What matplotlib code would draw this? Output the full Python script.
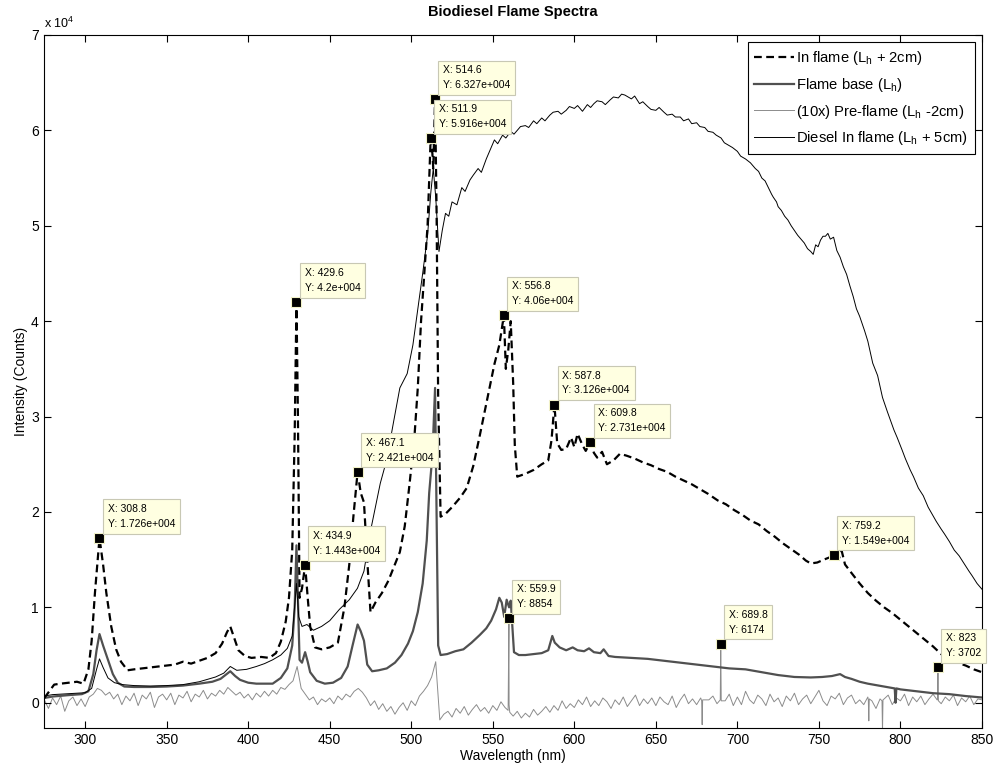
import numpy as np
import matplotlib.pyplot as plt
from matplotlib.ticker import FuncFormatter

plt.rcParams['font.family'] = ['Liberation Sans', 'DejaVu Sans']
plt.rcParams['mathtext.fontset'] = 'custom'
plt.rcParams['mathtext.rm'] = 'Liberation Sans'
plt.rcParams['mathtext.it'] = 'Liberation Sans:italic'

# --- In flame (Lh + 2cm), dashed ---
wl_in = [275, 278, 281, 285, 290, 295, 299, 302, 304, 306, 308.8, 311, 313, 316, 319, 322, 326,
         330, 335, 340, 345, 350, 355, 360, 365, 370, 375, 380, 384, 387, 389, 391, 394, 398,
         402, 408, 413, 417, 420, 423, 425, 427, 428.5, 429.6, 430.5, 431.5, 433, 434.9, 436.5,
         438, 441, 445, 450, 455, 459, 462, 464.5, 467.1, 469, 471, 473, 475, 478, 482, 486,
         490, 493, 496, 499, 502, 504, 506, 508, 510, 511.9, 512.8, 513.5, 514.6, 515.5, 516.5,
         518, 521, 525, 530, 534, 538, 542, 545, 548, 551, 554, 556.8, 558, 559.5, 561, 562.5,
         563.5, 565, 570, 575, 580, 584, 586, 587.8, 589.5, 592, 595, 598, 600, 602, 605, 607,
         609.8, 612, 614, 617, 620, 624, 628, 632, 637, 642, 647, 652, 657, 662, 667, 672, 677,
         682, 688, 693, 698, 703, 708, 713, 718, 723, 728, 733, 738, 742, 745, 749, 753, 756,
         759.2, 762, 764, 766, 770, 775, 780, 785, 790, 795, 800, 805, 810, 815, 820, 825, 830,
         835, 840, 845, 850]
inflame = [500, 1200, 1900, 2000, 2100, 2200, 2000, 3500, 6500, 11500, 17260, 14500, 11500, 8000,
           5600, 4300, 3400, 3500, 3600, 3700, 3800, 3900, 4000, 4300, 4100, 4400, 4700, 5200,
           6200, 7400, 8000, 7000, 5500, 4900, 4700, 4800, 4700, 5200, 6400, 8500, 11000, 16000,
           28000, 42000, 30000, 11000, 12000, 14430, 11000, 8000, 5800, 5600, 5800, 6300, 10000,
           14500, 19500, 24210, 22000, 21000, 15000, 9500, 10500, 11500, 12800, 14500, 15800,
           18500, 23000, 28000, 33000, 40000, 45000, 50000, 59160, 58000, 56000, 63270, 52000,
           32000, 19500, 19800, 20500, 21500, 22500, 24800, 28000, 30500, 33000, 35500, 37500,
           40600, 35000, 37000, 40000, 33500, 27000, 23700, 24000, 24400, 25000, 25400, 27500,
           31260, 27200, 26500, 26600, 27800, 26800, 28200, 27000, 26400, 27310, 26200, 25700,
           26300, 25000, 25400, 26100, 25900, 25600, 25200, 24900, 24500, 24200, 23700, 23300,
           22900, 22400, 21900, 21200, 20800, 20200, 19700, 19100, 18700, 18000, 17400, 16700,
           16100, 15500, 14900, 14600, 14700, 15000, 15200, 15490, 15000, 15900, 14500, 13600,
           12500, 11500, 10700, 10000, 9400, 8700, 8000, 7300, 6600, 5900, 5100, 4600, 4200,
           3900, 3500, 3200]

# --- Flame base (Lh) ---
wl_base = [275, 280, 290, 298, 302, 305, 307, 308.8, 311, 314, 317, 320, 324, 330, 340, 350, 360,
           370, 378, 383, 386, 389, 392, 395, 400, 405, 410, 415, 420, 424, 427, 428.5, 429.6,
           430.5, 431.5, 433, 434.9, 436.5, 438, 442, 447, 452, 457, 461, 464, 467.1, 469, 471,
           473, 476, 480, 485, 490, 494, 498, 501, 504, 507, 509.5, 511, 512, 513, 514.6, 515.5,
           516.5, 518, 522, 527, 532, 537, 542, 546, 549, 552, 554, 555.5, 557, 558.5, 560, 561,
           562, 563, 566, 570, 575, 580, 584, 586.5, 588, 591, 595, 599, 602, 606, 609, 612, 616,
           618, 621, 625, 635, 645, 655, 665, 675, 685, 695, 705, 715, 725, 735, 745, 752, 758,
           763, 766, 770, 775, 780, 790, 796.5, 797, 797.5, 800, 810, 820, 830, 840, 850]
base = [500, 650, 800, 900, 1200, 3000, 5500, 7200, 6000, 4500, 3000, 2100, 1700, 1650, 1650, 1700,
        1800, 2000, 2200, 2500, 2900, 3300, 2800, 2400, 2100, 2000, 2000, 2000, 2600, 3600, 6000,
        10000, 16500, 11000, 4500, 4200, 5300, 4300, 3200, 2300, 2000, 2100, 2600, 3800, 6000,
        8200, 7500, 6500, 4000, 3300, 3400, 3600, 4200, 5000, 6200, 7500, 9500, 12500, 17000,
        22000, 24000, 26000, 33000, 20000, 6000, 5000, 5100, 5400, 5600, 6300, 7100, 7800, 8600,
        9800, 11000, 10500, 9000, 10800, 10000, 10700, 8000, 5300, 5000, 5000, 5100, 5200, 5500,
        7000, 6300, 5800, 5500, 5800, 5500, 5400, 5700, 5300, 5200, 5600, 4900, 4800, 4700, 4600,
        4400, 4200, 4000, 3800, 3600, 3500, 3200, 2900, 2700, 2650, 2700, 2800, 3000, 2700, 2500,
        2200, 2000, 1700, 1500, 0, 1500, 1400, 1200, 1000, 900, 700, 550]

# --- (10x) Pre-flame (Lh - 2cm), sampled every 2.5 nm ---
wl_pre = np.arange(275, 850.1, 2.5)
pre = [300, -600, 500, -200, 700, -900, 200, 600, -300, 400,
       -400, 600, 900, 1500, 1300, 800, 1100, 400, 900, -200,
       700, 200, 1000, -300, 800, 400, 1100, -500, 600, 900,
       300, 1000, -200, 800, 500, 1200, 100, 900, 600, 1300,
       400, 1000, 700, 1300, 900, 1600, 1200, 800, 1100, 500,
       900, 300, 1000, 600, 1200, 700, 1300, 900, 1600, 1400,
       1900, 2300, 3800, 1500, 900, 300, 600, -200, 400, 100,
       500, -100, 700, 300, 900, 600, 1200, 1500, 1100, 500,
       -300, 200, -700, -100, -900, -400, -1200, -500, 0, -800,
       200, -300, 700, 1200, 1800, 2700, 4300, -1800, -1200, -900,
       -1500, -600, -1100, -400, -1300, -700, -200, -900, -500, -1100,
       -300, -800, 100, -500, -200, -1400, -900, -1600, -1100, -1500,
       -700, -1300, -900, -400, -1000, -300, -800, 200, -600, -100,
       -500, 300, -200, 600, -400, 200, -300, 500, 100, -600,
       300, -200, 600, -400, 200, 800, -300, 400, -100, 500,
       -300, 600, 100, -200, 700, -500, 300, 900, -100, 400,
       -200, 500, 300, 300, 700, -100, 1100, 200, 900, -300,
       600, -200, 1200, 300, -100, 800, 400, -300, 900, 100,
       500, -400, 700, 200, 1000, -200, 400, 800, -100, 600,
       1300, 200, -300, 700, 400, 1000, -200, 500, 800, -100,
       300, -200, 600, 200, -600, 400, 400, 800, -200, 500,
       200, 900, -300, 600, 100, 700, -200, 400, 900, 300,
       -100, 600, 200, 800, -300, 500, 100, 700, -200, 400,
       300]
# single-pixel spikes in the pre-flame record
spike_wl = [559.4, 559.9, 560.4, 678.1, 678.4, 678.7, 689.5, 689.8, 690.1,
            780.3, 780.6, 780.9, 788.7, 789.0, 789.3, 822.7, 823.0, 823.3]
spike_val = [-800, 8854, -1000, 200, -2300, 300, 300, 6174, 200,
             300, -1900, 400, 200, -3000, 300, 300, 3702, 200]

# --- Diesel in flame (Lh + 5cm) ---
wl_diesel = [275, 280, 290, 300, 304, 307, 308.8, 311, 314, 318, 323, 330, 340, 350, 360, 370, 380,
             385, 389, 393, 399, 405, 410, 415, 420, 424, 427, 429.6, 431, 433, 436, 440, 445, 450,
             456, 462, 467, 471, 475, 481, 485, 489, 493, 497.5, 501, 505, 507, 510, 512, 513.5,
             515, 517, 519, 521, 523, 525, 528, 531, 533, 536, 538, 541, 543, 546, 548, 551, 553,
             556, 558, 561, 563, 565, 567, 570, 572, 575, 577, 580, 582, 585, 587, 590, 592, 595,
             597, 600, 602, 605, 608, 610, 612, 614, 617, 619, 622, 624, 627, 629, 631, 633, 635,
             637, 640, 642, 645, 647, 650, 652, 655, 657, 660, 662, 665, 667, 670, 672, 675, 677,
             680, 682, 685, 687, 690, 692, 695, 697, 700, 702, 705, 708, 711, 713, 715, 717, 719,
             721, 722, 724, 725, 727, 729, 731, 733, 735, 737, 739, 741, 743, 745, 746.5, 748,
             749.5, 751, 752.5, 754, 755.5, 757, 759, 761, 763, 765, 767, 769, 771, 773, 775, 778,
             780, 783, 786, 789, 792, 796, 798, 801, 803, 806, 808, 811, 814, 817, 819, 822, 825,
             827, 830, 833, 836, 839, 842, 844, 847, 849, 850]
diesel = [700, 850, 950, 1050, 1500, 3500, 4600, 3700, 2600, 2100, 1900, 1800, 1750, 1800, 1900,
          2200, 2700, 3100, 3800, 3400, 3500, 3800, 4100, 4500, 5000, 5700, 7000, 12500, 9000, 8000,
          8200, 7600, 8000, 8600, 9800, 10800, 12000, 13800, 18000, 23000, 25500, 29300, 33000,
          34500, 37500, 42500, 45000, 49000, 53500, 56000, 53000, 47300, 49500, 51300, 51000,
          52500, 52200, 54000, 53600, 54800, 55300, 56000, 55600, 57000, 57800, 59000, 58600,
          59500, 59200, 59900, 59600, 60000, 60400, 60500, 60300, 61000, 60700, 61300, 61000,
          61600, 61900, 62000, 61700, 62100, 62500, 62300, 62600, 62000, 62700, 62400, 62800,
          63100, 63000, 62700, 63200, 63500, 63400, 63800, 63700, 63500, 63300, 63600, 62800,
          63000, 62500, 62200, 62100, 62400, 61900, 61600, 61700, 61400, 61400, 61000, 61200,
          60700, 60800, 60400, 60300, 59900, 59800, 59500, 59200, 58700, 58400, 58200, 57800,
          57300, 57000, 56600, 56000, 55700, 55000, 54700, 54000, 53300, 53000, 52500, 52000,
          51600, 51000, 50600, 50000, 49500, 49000, 48600, 48200, 47600, 47300, 47000, 48000,
          47800, 48500, 48900, 48900, 49200, 48600, 48800, 47400, 46700, 45700, 44900, 43700,
          42600, 41300, 40500, 39000, 37900, 35600, 34300, 32000, 30500, 28600, 27800, 26500,
          25600, 24400, 23700, 22500, 21700, 20500, 19900, 19000, 18200, 17700, 16900, 16000,
          15400, 14600, 13800, 13300, 12500, 12100, 11900]

# data tips
tip_x = [308.8, 429.6, 434.9, 467.1, 511.9, 514.6, 556.8, 587.8, 609.8, 759.2, 559.9, 689.8, 823]
tip_y = [17260, 42000, 14430, 24210, 59160, 63270, 40600, 31260, 27310, 15490, 8854, 6174, 3702]

labels = [r'In flame (L$_\mathrm{h}$ + 2cm)', r'Flame base (L$_\mathrm{h}$)',
          r'(10x) Pre-flame (L$_\mathrm{h}$ -2cm)', r'Diesel In flame (L$_\mathrm{h}$ + 5cm)']

# merge spikes into the pre-flame record
wl_p = np.concatenate([wl_pre, spike_wl])
val_p = np.concatenate([pre, spike_val])
order = np.argsort(wl_p)
wl_p, val_p = wl_p[order], val_p[order]

fig = plt.figure(figsize=(9.95, 7.67), dpi=100)
ax = fig.add_axes([0.0446, 0.0512, 0.9423, 0.9032])

ax.plot(wl_in, inflame, color='k', lw=1.6, ls=(0, (3.5, 2)), label=labels[0], zorder=4)
ax.plot(wl_base, base, color='#505050', lw=1.6, label=labels[1], zorder=2)
ax.plot(wl_p, val_p, color='#8c8c8c', lw=0.7, label=labels[2], zorder=1)
ax.plot(wl_diesel, diesel, color='k', lw=0.7, label=labels[3], zorder=3)


def tipfmt(v):
    s = f"{v:.4g}"
    if 'e+' in s:
        m, e = s.split('e+')
        s = m + 'e+' + e.zfill(3)
    return s


for x, y in zip(tip_x, tip_y):
    ax.plot(x, y, 's', color='k', ms=6.5, mec='#f2f2c8', mew=0.8, zorder=6)
    ax.annotate("X: %s\nY: %s" % (tipfmt(x), tipfmt(y)), xy=(x, y), xytext=(5.8, 6.6),
                textcoords='offset points', ha='left', va='bottom', fontsize=7.5,
                linespacing=1.6, zorder=7,
                bbox=dict(boxstyle='square,pad=0.45', fc='#ffffe1', ec='#c8c8b4', lw=0.8))

ax.set_xlim(275, 850)
ax.set_ylim(-2620, 70000)
ax.set_xticks(np.arange(300, 851, 50))
ax.set_yticks(np.arange(0, 70001, 10000))
ax.yaxis.set_major_formatter(FuncFormatter(lambda v, p: f"{v / 1e4:g}"))
ax.tick_params(direction='in', top=True, right=True, length=5, width=0.8, labelsize=10, pad=4)
for s in ax.spines.values():
    s.set_linewidth(0.8)

ax.text(0.0, 1.006, r'x 10$^4$', transform=ax.transAxes, ha='left', va='bottom', fontsize=9)
ax.set_title('Biodiesel Flame Spectra', fontsize=10.5, fontweight='bold', pad=14)
ax.set_xlabel('Wavelength (nm)', fontsize=10, labelpad=1)
ax.set_ylabel('Intensity (Counts)', fontsize=10, labelpad=2)

leg = ax.legend(loc='upper right', fontsize=10.6, fancybox=False, edgecolor='k', framealpha=1,
                borderaxespad=0.5, handlelength=2.7, handletextpad=0.15, labelspacing=0.6,
                borderpad=0.45)
leg.get_frame().set_linewidth(0.8)

fig.savefig('out.png', dpi=100)
